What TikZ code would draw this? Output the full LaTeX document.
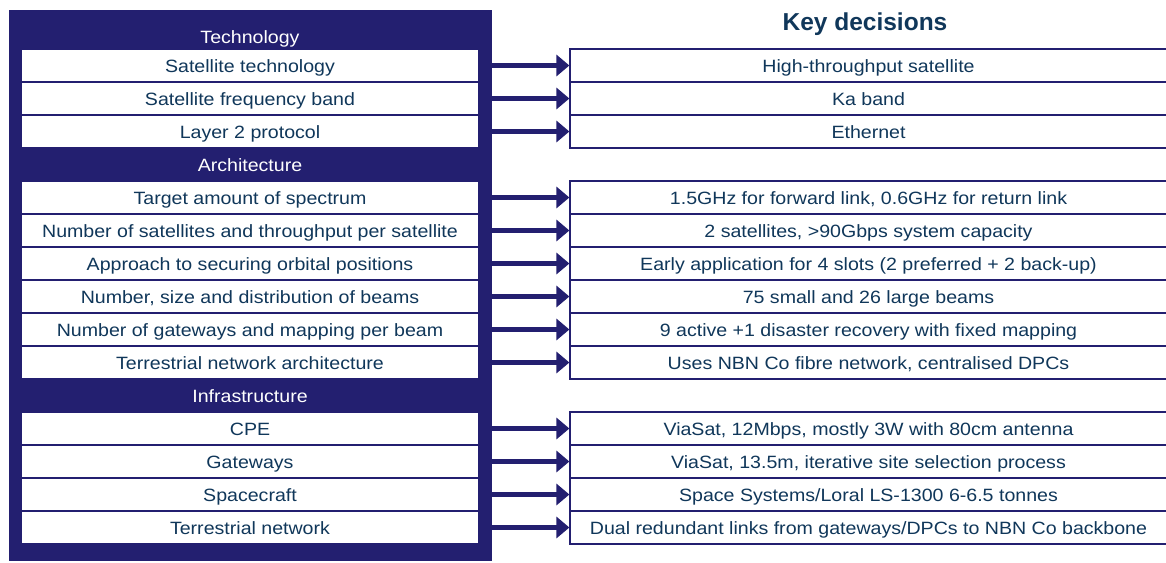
\documentclass[tikz,border=0pt]{standalone}
\usepackage{fontspec}
\setmainfont{Liberation Sans}[FakeStretch=1.1]
\newfontfamily\titlefont{Liberation Sans}
\usetikzlibrary{arrows.meta}
\definecolor{navy}{RGB}{35,31,112}
\definecolor{txt}{RGB}{16,55,90}
\begin{document}
\begin{tikzpicture}[x=1pt,y=-1pt,
  body/.style={inner sep=0pt, text height=13.6pt, text depth=0pt, font=\fontsize{17.8}{20}\selectfont},
  lrow/.style={body, fill=white, minimum width=456pt, minimum height=31pt, text=txt},
  hdr/.style={inner sep=0pt, anchor=base, text=white, font=\fontsize{17.8}{20}\selectfont},
  rrow/.style={body, draw=navy, line width=1.2pt, fill=white, minimum width=597pt, minimum height=33pt, text=txt},
  arr/.style={draw=navy, line width=4.5pt, -{Triangle[length=13pt,width=21pt]}}]
\useasboundingbox (0,0) rectangle (1166,562);
\node[fill=navy, minimum width=483pt, minimum height=551pt, inner sep=0pt, anchor=north west] (box) at (9,10) {};
\node[anchor=base, font=\titlefont\bfseries\fontsize{24.5}{26}\selectfont, text=txt] (kd) at (865,30.7) {Key decisions};
\node[hdr] (h0) at (250,43.3) {Technology};
\node[hdr] (h4) at (250,171.5) {Architecture};
\node[hdr] (h11) at (250,402.7) {Infrastructure};
\foreach \k/\lt/\rt in {
  1/{Satellite technology}/{High-throughput satellite},
  2/{Satellite frequency band}/{Ka band},
  3/{Layer 2 protocol}/{Ethernet},
  5/{Target amount of spectrum}/{1.5GHz for forward link, 0.6GHz for return link},
  6/{Number of satellites and throughput per satellite}/{2 satellites, >90Gbps system capacity},
  7/{Approach to securing orbital positions}/{Early application for 4 slots (2 preferred + 2 back-up)},
  8/{Number, size and distribution of beams}/{75 small and 26 large beams},
  9/{Number of gateways and mapping per beam}/{9 active +1 disaster recovery with fixed mapping},
  10/{Terrestrial network architecture}/{Uses NBN Co fibre network, centralised DPCs},
  12/{CPE}/{ViaSat, 12Mbps, mostly 3W with 80cm antenna},
  13/{Gateways}/{ViaSat, 13.5m, iterative site selection process},
  14/{Spacecraft}/{Space Systems/Loral LS-1300 6-6.5 tonnes},
  15/{Terrestrial network}/{Dual redundant links from gateways/DPCs to NBN Co backbone}} {
  \node[lrow] (l\k) at (250,{32.5+33*\k}) {\lt};
  \node[rrow] (r\k) at (868.5,{32.5+33*\k}) {\rt};
  \draw[arr] (l\k.east -| box.east) -- (r\k.west);
}
\end{tikzpicture}
\end{document}
